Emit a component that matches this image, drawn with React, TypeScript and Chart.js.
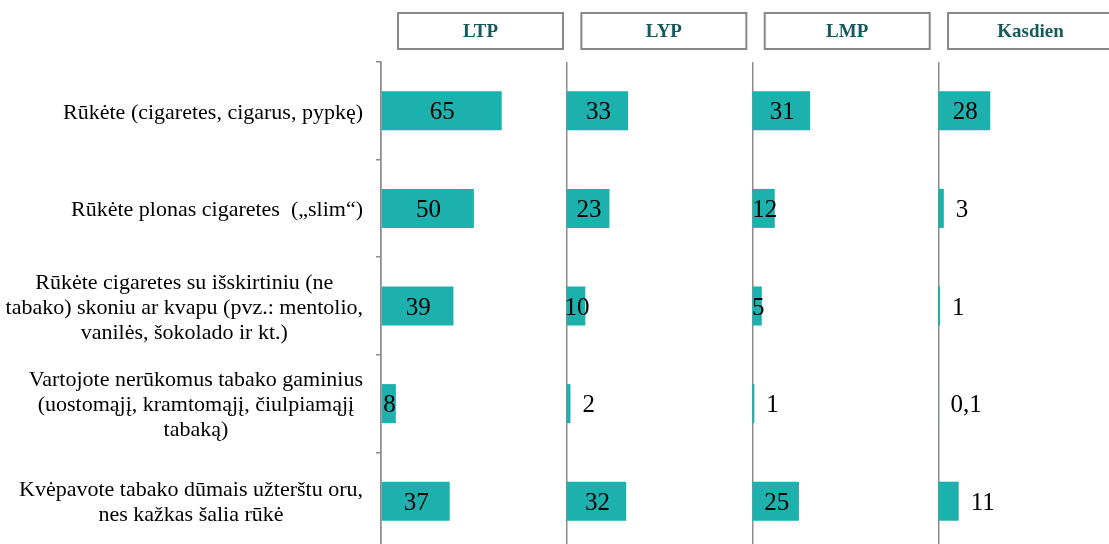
import React, { useEffect, useRef } from "react";
import { Chart, registerables } from "chart.js";

Chart.register(...registerables);

const categories: string[][] = [
  ["Rūkėte (cigaretes, cigarus, pypkę)"],
  ["Rūkėte plonas cigaretes  („slim“)"],
  ["Rūkėte cigaretes su išskirtiniu (ne", "tabako) skoniu ar kvapu (pvz.: mentolio,", "vanilės, šokolado ir kt.)"],
  ["Vartojote nerūkomus tabako gaminius", "(uostomąjį, kramtomąjį, čiulpiamąjį", "tabaką)"],
  ["Kvėpavote tabako dūmais užterštu oru,", "nes kažkas šalia rūkė"],
];
const panels = ["LTP", "LYP", "LMP", "Kasdien"];
const ltp = [65, 50, 39, 8, 37];
const lyp = [33, 23, 10, 2, 32];
const lmp = [31, 12, 5, 1, 25];
const kasdien = [28, 3, 1, 0.1, 11];
const seriesValues = [ltp, lyp, lmp, kasdien];
const panelSpan = 100;
const axisMax = 400;
// values below these thresholds get their label outside the bar end
const outsideBelow = [0, 5, 5, 20];

const SERIF = "'Liberation Serif', 'Times New Roman', serif";

const overlay = {
  id: "overlay",
  afterDatasetsDraw(chart: any) {
    const ctx = chart.ctx as CanvasRenderingContext2D;
    const xs = chart.scales.x;
    const ys = chart.scales.y;
    ctx.save();
    // value labels
    ctx.font = `25px ${SERIF}`;
    ctx.fillStyle = "#000";
    ctx.textBaseline = "middle";
    seriesValues.forEach((vals, i) => {
      const meta = chart.getDatasetMeta(i);
      vals.forEach((v, j) => {
        const el = meta.data[j];
        const txt = String(v).replace(".", ",");
        const start = xs.getPixelForValue(i * panelSpan);
        const end = xs.getPixelForValue(i * panelSpan + v);
        if (v < outsideBelow[i]) {
          ctx.textAlign = "left";
          ctx.fillText(txt, end + 12, el.y + 2);
        } else {
          ctx.textAlign = "center";
          ctx.fillText(txt, (start + end) / 2 + 1, el.y + 2);
        }
      });
    });
    // panel headers
    ctx.font = `bold 19px ${SERIF}`;
    panels.forEach((p, i) => {
      const x0 = xs.getPixelForValue(i * panelSpan);
      const bx = x0 + 17 - i * 2.4, bw = 165, by = 13, bh = 36;
      ctx.fillStyle = "#fff";
      ctx.fillRect(bx, by, bw, bh);
      ctx.strokeStyle = "#888888";
      ctx.lineWidth = 2;
      ctx.strokeRect(bx, by, bw, bh);
      ctx.fillStyle = "#17595c";
      ctx.textAlign = "center";
      ctx.fillText(p, bx + bw / 2, by + bh / 2 + 1);
    });
    // category labels: block right-aligned, lines centered within block
    ctx.font = `22px ${SERIF}`;
    ctx.fillStyle = "#000";
    const rightEdge = ys.right - 18;
    categories.forEach((lines, j) => {
      const cy = ys.getPixelForTick(j);
      const widest = Math.max(...lines.map((l) => ctx.measureText(l).width));
      const cx = rightEdge - widest / 2;
      const lh = 25;
      ctx.textAlign = "center";
      lines.forEach((l, k) => {
        ctx.fillText(l, cx, cy + (k - (lines.length - 1) / 2) * lh + 2);
      });
    });
    ctx.restore();
  },
};

export default function App() {
  const ref = useRef<HTMLCanvasElement | null>(null);
  useEffect(() => {
    if (!ref.current) return;
    const chart = new Chart(ref.current, {
      type: "bar",
      data: {
        labels: categories.map((c) => c.join(" ")),
        datasets: seriesValues.map((vals, i) => ({
          label: panels[i],
          data: vals.map((v) => [i * panelSpan, i * panelSpan + v]),
          backgroundColor: "#1cb1ad",
          grouped: false,
          barPercentage: 0.4,
          categoryPercentage: 1,
        })) as any,
      },
      options: {
        indexAxis: "y",
        animation: false,
        responsive: false,
        maintainAspectRatio: false,
        layout: { padding: { top: 62, left: 0, right: 1, bottom: 0 } },
        plugins: { legend: { display: false }, tooltip: { enabled: false } },
        scales: {
          x: {
            min: 0,
            max: axisMax,
            afterBuildTicks: (s: any) => {
              s.ticks = [0, 1, 2, 3].map((k) => ({ value: k * panelSpan }));
            },
            ticks: { display: false },
            grid: { color: "#8c8c8c", lineWidth: 1.5, drawTicks: false },
            border: { display: false },
            afterFit: (s: any) => {
              s.height = 0;
            },
          },
          y: {
            ticks: { display: false },
            grid: { offset: true, drawOnChartArea: false, tickLength: 5, color: "#8c8c8c", lineWidth: 1.5 },
            border: { color: "#8c8c8c", width: 1.5 },
            afterFit: (s: any) => {
              s.width = 381;
            },
          },
        },
      } as any,
      plugins: [overlay],
    });
    return () => chart.destroy();
  }, []);
  return (
    <div
      style={{
        position: "fixed",
        left: 0,
        top: 0,
        width: 1109,
        height: 544,
        overflow: "hidden",
        background: "#fff",
      }}
    >
      <canvas ref={ref} width={1125} height={550} style={{ display: "block" }} />
    </div>
  );
}
